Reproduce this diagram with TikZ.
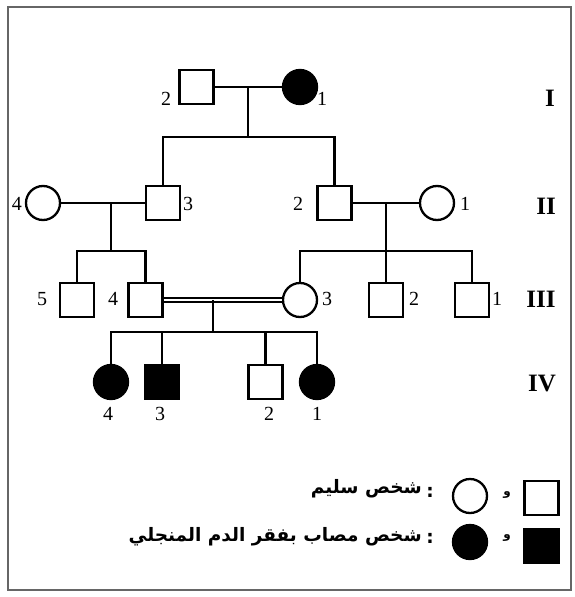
\documentclass[tikz,border=0pt]{standalone}
\usepackage{fontspec}
\setmainfont{Liberation Serif}
\newfontfamily\arabicfont[Script=Arabic]{DejaVu Sans}
\TeXXeTstate=1
\begin{document}
\begin{tikzpicture}[x=1pt,y=-1pt,
  ln/.style={line width=2.3pt},
  male/.style={draw,line width=2.3pt,minimum size=34pt,inner sep=0pt},
  fem/.style={circle,draw,line width=2.3pt,minimum size=34pt,inner sep=0pt},
  aff/.style={fill=black},
  num/.style={font=\fontsize{20}{20}\selectfont,inner sep=0pt},
  gen/.style={font=\fontsize{25}{25}\selectfont\bfseries,inner sep=0pt},
  ar/.style={font=\arabicfont\bfseries\fontsize{18.5}{18.5}\selectfont,inner sep=0pt},
  arsmall/.style={font=\arabicfont\bfseries\fontsize{12}{12}\selectfont,inner sep=0pt}
]
\useasboundingbox (0,0) rectangle (574,597);
\draw[line width=2.2pt,black!60] (8,7) rectangle (571,590);

% Generation I
\node[male] (I2) at (196.5,87) {};
\node[fem,aff] (I1) at (300,87) {};
\node[num] (lI2) at (166,99) {2};
\node[num] (lI1) at (322,99) {1};
\coordinate (mI) at (248,87);
\coordinate (sI) at (248,137);
\coordinate (sIa) at (163,137);
\coordinate (sIb) at (334.5,137);

% Generation II
\node[fem] (II4) at (43,203) {};
\node[male] (II3) at (163,203) {};
\node[male] (II2) at (334.5,203) {};
\node[fem] (II1) at (437,203) {};
\node[num] (lII4) at (17,204) {4};
\node[num] (lII3) at (188,204) {3};
\node[num] (lII2) at (298,204) {2};
\node[num] (lII1) at (465,204) {1};
\coordinate (mIIa) at (111,203);
\coordinate (sIIa) at (111,251);
\coordinate (sIIa1) at (77,251);
\coordinate (sIIa2) at (145.5,251);
\coordinate (mIIb) at (386,203);
\coordinate (sIIb) at (386,251);
\coordinate (sIIb1) at (300,251);
\coordinate (sIIb2) at (472,251);

% Generation III
\node[male] (III5) at (77,300) {};
\node[male] (III4) at (145.5,300) {};
\node[fem] (III3) at (300,300) {};
\node[male] (III2) at (386,300) {};
\node[male] (III1) at (472,300) {};
\node[num] (lIII5) at (42,299) {5};
\node[num] (lIII4) at (113,299) {4};
\node[num] (lIII3) at (327,299) {3};
\node[num] (lIII2) at (414,299) {2};
\node[num] (lIII1) at (497,299) {1};
\coordinate (mIII) at (213,300);
\coordinate (sIII) at (213,332);
\coordinate (sIIIa) at (111,332);
\coordinate (sIIIb) at (317,332);

% Generation IV
\node[fem,aff] (IV4) at (111,382) {};
\node[male,aff] (IV3) at (162,382) {};
\node[male] (IV2) at (265.5,382) {};
\node[fem,aff] (IV1) at (317,382) {};
\node[num] (lIV4) at (108,414) {4};
\node[num] (lIV3) at (160,414) {3};
\node[num] (lIV2) at (269,414) {2};
\node[num] (lIV1) at (317,414) {1};

% Generation labels
\node[gen] (gI) at (550,98) {I};
\node[gen] (gII) at (546,206) {II};
\node[gen] (gIII) at (541,299) {III};
\node[gen] (gIV) at (542,383) {IV};

% connectors
\draw[ln] (I2.east) -- (I1.west);
\draw[ln] (mI) -- (sI);
\draw[ln] (II3.north) -- (sIa) -- (sIb) -- (II2.north);
\draw[ln] (II4.east) -- (II3.west);
\draw[ln] (mIIa) -- (sIIa);
\draw[ln] (III5.north) -- (sIIa1) -- (sIIa2) -- (III4.north);
\draw[ln] (II2.east) -- (II1.west);
\draw[ln] (mIIb) -- (sIIb);
\draw[ln] (III3.north) -- (sIIb1) -- (sIIb2) -- (III1.north);
\draw[ln] (sIIb) -- (III2.north);
\draw[line width=1.6pt,double distance=2.6pt] (III4.east) -- (III3.west);
\draw[ln] (mIII) -- (sIII);
\draw[ln] (IV4.north) -- (sIIIa) -- (sIIIb) -- (IV1.north);
\draw[ln] (IV3.north |- sIII) -- (IV3.north);
\draw[ln] (IV2.north |- sIII) -- (IV2.north);

% legend
\node[male] (LS1) at (541.5,498) {};
\node[male,aff] (LS2) at (541.5,546) {};
\node[fem] (LC1) at (470,496) {};
\node[fem,aff] (LC2) at (470,542) {};
\node[arsmall] (w1) at (507,495) {\beginR و\endR};
\node[arsmall] (w2) at (507,538) {\beginR و\endR};
\node[ar] (c1) at (430,492) {:};
\node[ar] (c2) at (430,538) {:};
\node[ar,anchor=east] (t1) at (422,489) {\beginR شخص سليم\endR};
\node[ar,anchor=east] (t2) at (422,537) {\beginR شخص مصاب بفقر الدم المنجلي\endR};
\end{tikzpicture}
\end{document}
